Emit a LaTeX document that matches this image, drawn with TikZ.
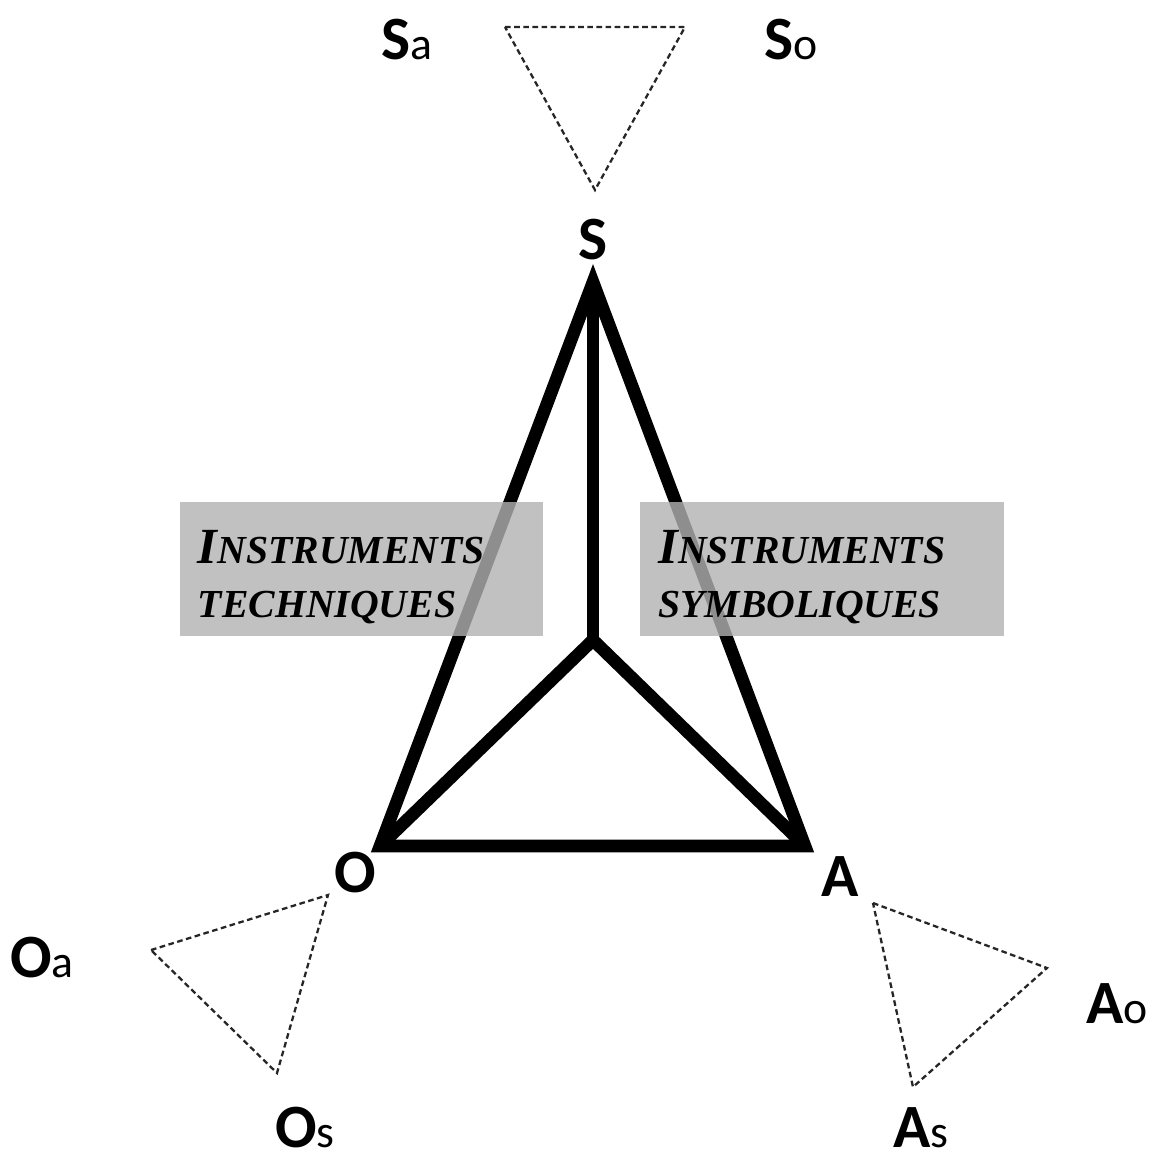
\documentclass[tikz,border=0pt]{standalone}
\usepackage{fontspec}
\setmainfont{Carlito}
\newfontfamily\instrfont{Liberation Serif}
\usepackage{tikz}
\usetikzlibrary{arrows.meta}

% indices des sommets (a, o, s)
\newcommand{\sml}[1]{{\mdseries\fontsize{13}{15}\selectfont #1}}
\newcommand{\bigI}{{\fontsize{14.4}{15.2}\selectfont I}}

\begin{document}
\begin{tikzpicture}[x=0.01cm, y=-0.01cm, line cap=butt,
  edge/.style={line width=3.6pt, line join=miter},
  facet/.style={draw=black!85, line width=0.65pt, dash pattern=on 1.6pt off 1pt},
  vlab/.style={font=\bfseries\fontsize{17.5}{20}\selectfont, inner sep=0pt},
  instrbox/.style={fill=black!30, fill opacity=0.8, inner sep=0pt,
    minimum width=3.63cm, minimum height=1.34cm},
  instrtext/.style={inner sep=0pt, align=left, anchor=west,
    font=\instrfont\bfseries\itshape\fontsize{11.3}{15.2}\selectfont}]

\useasboundingbox (0,0) rectangle (1154,1162);

% Sommets
\coordinate (S) at (593,282);
\coordinate (O) at (380,846);
\coordinate (A) at (805,846);
\coordinate (C) at (593,640);

% Petits triangles (pointilles)
\coordinate (sa) at (505,27);
\coordinate (so) at (685,27);
\coordinate (ss) at (595,190);
\draw[facet] (sa) -- (so) -- (ss) -- cycle;

\coordinate (oa) at (151,950);
\coordinate (oo) at (328,895);
\coordinate (os) at (277,1073);
\draw[facet] (oa) -- (oo) -- (os) -- cycle;

\coordinate (aa) at (873,903);
\coordinate (ao) at (1047,968);
\coordinate (as) at (913,1087);
\draw[facet] (aa) -- (ao) -- (as) -- cycle;

% Tetraedre
\draw[edge] (O) -- (S) -- (A) -- cycle;
\draw[edge] (S) -- (C);
\draw[edge] (O) -- (C) -- (A);

% Instruments
\node[instrbox] (techbox) at (361.5,569) {};
\node[instrbox] (symbbox) at (822,569) {};
\node[instrtext] (techtext) at ([xshift=0.18cm, yshift=-0.08cm]techbox.west) {\bigI NSTRUMENTS\\TECHNIQUES};
\node[instrtext] (symbtext) at ([xshift=0.18cm, yshift=-0.08cm]symbbox.west) {\bigI NSTRUMENTS\\SYMBOLIQUES};

% Etiquettes
\node[vlab] (labS) at (593,240) {S};
\node[vlab] (labO) at (355,873) {O};
\node[vlab] (labA) at (840,877) {A};

\node[vlab] (labSa) at (407,40) {S\sml{a}};
\node[vlab] (labSo) at (791,40) {S\sml{o}};
\node[vlab] (labOa) at (42,958) {O\sml{a}};
\node[vlab] (labOs) at (305,1128) {O\sml{s}};
\node[vlab] (labAo) at (1117,1004) {A\sml{o}};
\node[vlab] (labAs) at (921,1128) {A\sml{s}};

\end{tikzpicture}
\end{document}
